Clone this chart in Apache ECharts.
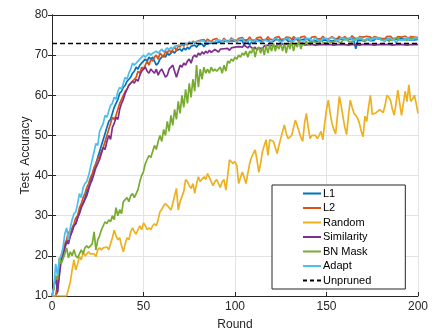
<!DOCTYPE html>
<html><head><meta charset="utf-8">
<script src="https://cdn.jsdelivr.net/npm/echarts@6/dist/echarts.min.js"></script>
<style>html,body{margin:0;padding:0;background:#fff}#c{width:439px;height:328px}</style>
</head><body><div id="c"></div>
<script>
const seriesNames = ['L1','L2','Random','Similarity','BN Mask','Adapt','Unpruned'];
const xTicks = [0,50,100,150,200];
const yTicks = [10,20,30,40,50,60,70,80];
const unpruned = 72.9;

const l1 = [10,10,10,11,16,19,20.5,22,23.5,24,
25,26.5,27.5,28,29.5,31,32.5,33,34.5,36,
37,38.5,40,41.5,43,44.5,46,47.5,49,50.5,
52,53.5,54,55.5,57,58,59,60.5,61,62,
62.5,63.5,64,64.5,65.5,66,67,66.5,67.5,68,
68.5,69,68.5,69.5,69,69.5,68.5,67.5,68,69,
69.5,70,69.5,70.5,70,70.5,71,70.5,71.2,70.8,
71.5,71,71.8,71.3,72,71.5,72.2,71.8,72.5,72,
72.6,72.2,72.8,72.1,72.7,72.3,72.9,72.5,73,72.6,
73.1,72.7,73.3,72.9,73.4,73,73.5,73.1,73.6,73.2,
73.5,73.1,73.7,73.3,73.6,72.4,73.8,73.4,72.6,73.2,
73.6,73.3,73.8,73.4,73.7,73.1,73.9,73.5,73.8,73.3,
73.7,73.4,73.9,73.5,73.8,73.2,73.9,73.6,74,73.5,
73.8,73.4,74,73.6,73.9,73.3,73.8,73.5,74,73.6,
73.9,73.4,73.8,73.6,74,73.5,73.9,73.7,73.4,73.8,
73.8,73.7,74,73.5,73.9,73.6,74.1,73.7,73.9,73.5,
74,73.6,73.9,73.7,74.1,73.5,71.6,73.6,74,73.7,
73.9,73.5,74.1,73.8,73.6,74,73.7,74.2,73.8,74,
73.6,73.9,73.7,74.1,73.5,73.8,74,73.6,73.9,73.7,
74.1,73.8,74,73.6,73.9,74.2,73.7,74,73.8,74.1,
73.9];

const l2 = [10,10,10,13,17,20,21.5,23,24,26,
25.5,27,28,29.5,30,32,33,34.5,35.5,37,
38,39.5,40.5,42,43,44,45,46,47,48.5,
50,51.5,53,54.5,54,55,56.5,58,59,60,
61,61.5,62.5,63,63.5,64,64.5,66,65.5,67,
66.5,67.5,68.5,67.5,69,68.5,69.5,70,69,70.5,
70,69.5,71,70.5,71.5,70.5,71.5,72,71,72.5,
72,72.8,72.2,73,72.5,73.3,72.8,73.5,72.9,73.4,
73.1,73.7,73.3,73.9,73.4,74,73.6,73.3,73.9,73.5,
74.1,73.6,73.9,73.4,74.2,73.7,74,73.5,74.3,73.8,
74.1,73.6,74.2,73.8,74.4,73.7,74.1,73.9,74.5,73.8,
74.2,73.7,74.3,74,74.5,73.8,74.2,73.9,74.6,74,
74.3,73.8,74.4,74.1,74.6,73.9,74.3,74,74.5,74.2,
74.4,73.9,74.6,74.1,74.3,73.8,74.5,74.2,74.7,74,
74.3,73.9,74.5,74.2,74.6,74,74.4,74.1,74.7,74.2,
74.5,74,74.3,74.6,74.1,74.5,74.2,74.7,74.1,74.4,
74.6,74.1,74.5,74.2,74.8,74.3,74.5,74,74.6,74.3,
74.5,74.1,74.7,74.3,74.5,74,74.6,74.2,74.4,74.7,
74.2,74.5,74.1,74.6,74.3,74.7,74.2,74.5,74.1,74.6,
74.3,74.5,74.2,74.7,74.4,74.1,74.6,74.3,74.5,74.2,
74.4];

const randomAcc = [10,10,10,10,10,10,10,10,10,10,
13.5,16.5,19,16.5,18,19.8,19,21,20,20.5,
21,20.5,20.7,20.5,19.8,21.5,22,21.5,22,21.8,
22.2,21.5,23,24.5,26.4,25,24,24.5,22.5,21,
23,24.5,24,26,27,26,25.4,26.5,27.5,26.5,
28.2,27.5,26.5,27,26.5,27.5,28,27.5,29,31,
31.5,32.5,33,32.5,32,31.4,33,35,36.8,31.4,
33.5,33.4,36,39,38.5,37.5,36.8,38,35.6,38,
39.7,38.5,38.1,39.7,39,40.5,39.5,38.5,37.5,38.5,
39,38,37,38.5,39,36.4,40,43.9,43.5,43,
43.5,42.5,38,39.5,40.9,39.5,38,40.5,43,44.5,
45.5,46.4,44,40.8,43,46,47.5,48.9,45,48.9,
49,48.5,47,45.5,47.5,49.2,51,52.6,50.5,49.2,
49.5,50,52,53.8,52.5,51,49.5,48.5,53,55.5,
52,49.2,50,50.4,50,49.2,50,51,48.9,53,
56.5,58.8,55.5,53,51.5,50.4,55,59.7,57.5,54.7,
52,50.2,55,58.8,57,55.5,55,54.3,53,51,
49.7,54.8,53.5,57.2,60,55.3,55.5,55.6,56,56.4,
56,55.7,57.5,60,59.5,58.7,56.5,55,58,61.3,
58,55,58,61,58.4,62.6,58.5,59,60,58,
55.5];

const similarity = [10,12,15,11,15,19,20,22,23.5,23,
25,26,27.5,28,29.5,30.5,32,33,34,35,
36.5,38,39,40.5,42,43,44,45.5,47,46.5,
48.5,50,49,52,53,54.5,54,56.5,58,59,
60.5,61.5,62.5,63,63.5,63,64,63.5,65,66,
66.5,67,66,65.5,66.5,66,65.5,66.5,65,66,
66.5,65.5,64.5,65,66.5,67,67.5,66,64.5,66,
67.5,67,68,67.5,68.5,69,68,69.5,70,69.5,
70.5,70,70.8,70.3,71,70.5,71.2,70.7,71,71.4,
71.3,70.8,71.5,71.1,71.6,71.3,71.7,71.2,71.8,71.7,
72,71.6,72.1,72.4,72,72.5,72.2,71.8,72.3,71.9,
71.5,72,71.3,71.8,72.2,71.6,72.3,72,72.5,72.1,
72.4,72.5,72.1,72.6,72.3,72.8,72.4,72.7,72.3,72.8,
72.5,72.9,72.6,72.8,72.4,72.9,72.6,73,72.5,72.8,
72.6,73,72.7,72.9,72.5,72.8,72.6,73,72.7,72.9,
72.6,72.9,72.7,73,72.5,72.8,72.6,72.9,72.7,73,
72.6,72.8,72.5,72.9,72.7,73,72.6,72.8,72.5,72.9,
72.7,72.9,72.6,73,72.7,72.8,72.5,72.9,72.6,72.8,
72.7,73,72.6,72.9,72.7,72.8,72.5,72.9,72.6,72.8,
72.7,72.9,72.6,72.8,72.5,72.9,72.6,72.8,72.7,72.5,
72.6];

const bnMask = [10,12,15,14,19.5,18,18,20.5,22,19.5,
21,20,21.5,20,19.5,20.5,21.5,20.5,22,22.5,
22,22.5,23,26,21.5,24,25,26.5,27.5,28.5,
28,29,28.5,30,29,32,30,31.5,30.5,33.5,
34,34.5,33.5,35,35.5,34.5,35.5,36.5,38.5,40,
41,43,44,45,44.5,46,47.5,46.5,48.5,50,
48.5,51.5,50,53.5,51,55,52.5,56.5,54,58.5,
55.5,60,57,61.5,58,63,59.5,64,61,67.5,
62,66.5,64,67,65.5,66.5,65.5,67,66,66.5,
66,66.5,67,65.5,67.5,66,68.5,68,69,68.5,
69.5,69,70,69.5,70.5,70,71,69.5,71,70.5,
72,69.5,71.5,72,70.5,72,70,72.5,70.5,72.5,
71,73,71,72.5,71.5,73,71,73,70.5,73,
71.5,73.5,71,73,72,73.5,71.5,73,72.5,73.5,
72.5,73.5,72.8,73.6,73,73.4,72.9,73.7,73.2,73.5,
73,73.8,73.2,73.6,73.3,73.9,73.4,73.7,73.1,73.8,
73.4,74,73.5,73.8,73.3,74,73.6,73.9,73.5,74.1,
73.6,74,73.7,74.2,73.8,74,73.6,74.1,73.8,74.2,
73.7,74.1,73.9,74.3,73.8,74.1,73.7,74.2,73.9,74.3,
73.8,74.2,73.9,74.1,73.7,74.3,73.9,74.2,73.8,74,
74.1];

const adapt = [10,12,18,15,19,20,22,25.5,27,24,
27,29,30.5,31,33,35.5,34.5,37,38,38.5,
40,42,44,46,48,47.5,51,52,53,55,
54.5,56,57.5,58,59.5,59,61,62,61.5,63,
64.5,64,65.5,66.5,68,67.5,68,68.5,69,69.5,
70,69.5,70,70.5,70,70.5,70.5,71,70.5,71,
71.5,70.8,71.2,71.8,71.3,72,71.5,72.2,71.8,72.4,
72,72.6,72.2,72.8,72.4,73,72.6,73.2,72.8,73.4,
73,73.5,73.1,73.6,72.8,73.5,73.8,73.2,73.6,73.3,
73.8,73.4,73.7,73.1,73.9,73.5,73.2,73.8,73.4,74,
73.6,73.2,73.8,73.5,74.1,73.4,73.7,73.3,73.9,73.6,
73.2,73.8,74,73.4,73.7,73.1,73.8,74.1,73.5,73.8,
73.4,73.9,73.6,74.2,73.5,73.8,73.3,74,73.7,74.2,
73.6,73.9,73.4,74.1,73.8,74.3,73.6,73.9,73.5,74.2,
73.8,74.1,73.5,73.9,74.3,73.7,74,73.4,74.2,73.8,
74.1,73.6,74.3,73.9,74.4,73.7,74.1,73.8,74.3,73.9,
74.2,73.6,74,74.4,73.8,74.1,73.7,74.3,74,74.4,
73.8,74.2,73.9,74.4,73.6,74.1,73.8,74.3,73.9,74.2,
73.7,74.1,73.4,74,73.8,74.3,73.6,74.1,72.9,73.8,
74.2,73.7,74.1,73.8,74.4,73.9,74.2,73.7,74.3,74,
74.2];

const colors = ['#0072BD','#D95319','#EDB120','#7E2F8E','#77AC30','#4DBEEE','#000000'];
const allData = [l1, l2, randomAcc, similarity, bnMask, adapt];
const FONT = '"Liberation Sans", Arial, Helvetica, sans-serif';
const axisColor = '#262626';

const series = allData.map((arr, i) => ({
  name: seriesNames[i], type: 'line', xAxisIndex: 0, yAxisIndex: 0,
  symbol: 'none', showSymbol: false, animation: false,
  data: arr.map((v, r) => [r, v]),
  lineStyle: { color: colors[i], width: 1.7 }, itemStyle: { color: colors[i] }
}));
series.push({
  name: seriesNames[6], type: 'line', symbol: 'none', animation: false,
  data: [[xTicks[0], unpruned], [xTicks[xTicks.length-1], unpruned]],
  lineStyle: { color: '#000', width: 1.3, type: [5, 3] }, itemStyle: { color: '#000' }
});

const legendData = seriesNames.map((n, i) => ({
  name: n,
  icon: i === 6 ? 'path://M0,0h4v2h-4z M7,0h4v2h-4z M14,0h4v2h-4z' : 'rect'
}));

const chart = echarts.init(document.getElementById('c'));
chart.setOption({
  animation: false,
  backgroundColor: '#fff',
  textStyle: { fontFamily: FONT },
  grid: { left: 52, right: 21, top: 15, bottom: 32, containLabel: false, outerBoundsMode: 'none' },
  xAxis: [{
    type: 'value', min: xTicks[0], max: xTicks[xTicks.length-1], interval: 50,
    name: 'Round', nameLocation: 'middle', nameGap: 23, nameMoveOverlap: false,
    nameTextStyle: { fontSize: 12, color: axisColor, fontFamily: FONT },
    axisLine: { lineStyle: { color: axisColor, width: 1 } },
    axisTick: { inside: true, length: 4, lineStyle: { color: axisColor } },
    axisLabel: { fontSize: 12, color: axisColor, margin: 5, fontFamily: FONT },
    splitLine: { show: true, lineStyle: { color: '#e3e3e3', width: 1 } }
  }, {
    type: 'value', position: 'top', min: xTicks[0], max: xTicks[xTicks.length-1], interval: 50,
    axisLine: { lineStyle: { color: axisColor, width: 1 } },
    axisTick: { inside: true, length: 4, lineStyle: { color: axisColor } },
    axisLabel: { show: false }, splitLine: { show: false }
  }],
  yAxis: [{
    type: 'value', min: yTicks[0], max: yTicks[yTicks.length-1], interval: 10,
    name: 'Test  Accuracy', nameLocation: 'middle', nameGap: 20, nameRotate: 90, nameMoveOverlap: false,
    nameTextStyle: { fontSize: 12, color: axisColor, fontFamily: FONT },
    axisLine: { show: true, lineStyle: { color: axisColor, width: 1 } },
    axisTick: { show: true, inside: true, length: 4, lineStyle: { color: axisColor } },
    axisLabel: { fontSize: 12, color: axisColor, margin: 4, fontFamily: FONT },
    splitLine: { show: true, lineStyle: { color: '#e3e3e3', width: 1 } }
  }, {
    type: 'value', position: 'right', min: yTicks[0], max: yTicks[yTicks.length-1], interval: 10,
    axisLine: { show: true, lineStyle: { color: axisColor, width: 1 } },
    axisTick: { show: true, inside: true, length: 4, lineStyle: { color: axisColor } },
    axisLabel: { show: false }, splitLine: { show: false }
  }],
  legend: {
    show: true,
    data: legendData, orient: 'vertical', left: 272, top: 185,
    itemWidth: 18, itemHeight: 2, itemGap: 3.5,
    padding: [3, 34, 3, 31],
    backgroundColor: '#fff', borderColor: axisColor, borderWidth: 1,
    textStyle: { fontSize: 11, color: '#000', fontFamily: FONT, padding: [0, 0, 0, -3] }
  },
  series
});
</script></body></html>
